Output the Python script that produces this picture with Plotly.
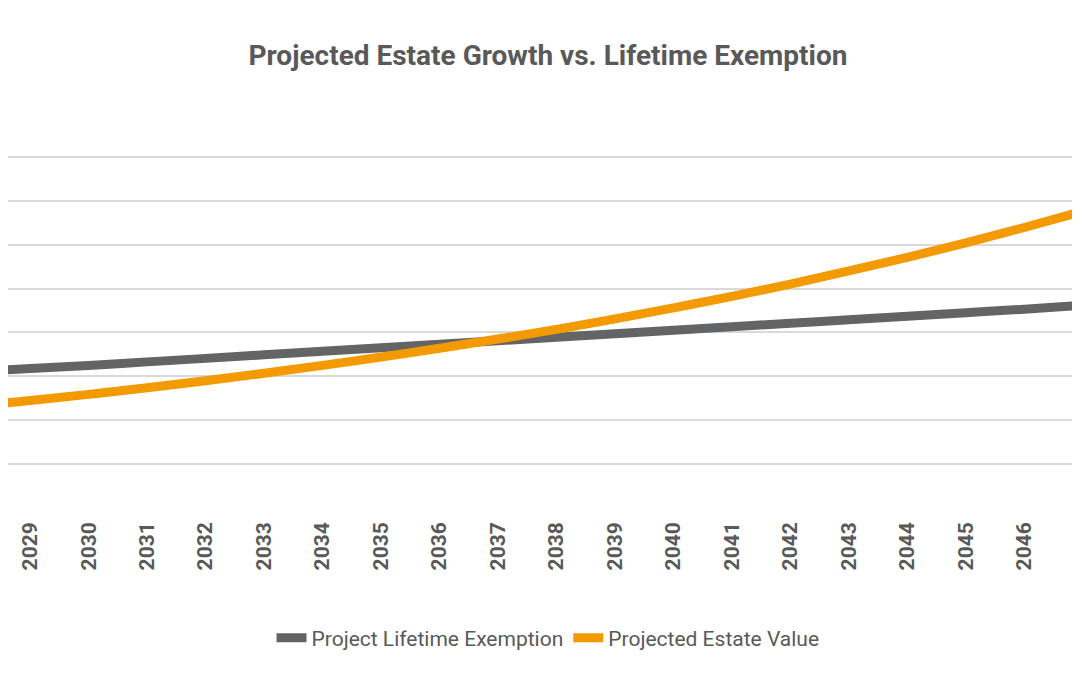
import plotly.graph_objects as go

years = list(range(2028, 2049))
exemption = [3.10,3.18,3.25,3.33,3.41,3.49,3.57,3.65,3.73,3.81,3.89,3.97,4.05,4.13,4.21,4.29,4.37,4.45,4.53,4.62,4.70]
estate = [2.32,2.45,2.59,2.74,2.90,3.07,3.25,3.44,3.64,3.85,4.07,4.31,4.56,4.82,5.10,5.40,5.71,6.04,6.39,6.76,7.15]
tick_years = list(range(2028, 2049))

grey = "#595959"
fig = go.Figure()
fig.add_trace(go.Scatter(x=years, y=exemption, mode="lines", name="Project Lifetime Exemption",
                         line=dict(color="#636466", width=9, shape="spline")))
fig.add_trace(go.Scatter(x=years, y=estate, mode="lines", name="Projected Estate Value",
                         line=dict(color="#F39A00", width=9, shape="spline")))
fig.update_layout(
    width=1080, height=675, paper_bgcolor="white", plot_bgcolor="white",
    margin=dict(l=0, r=0, t=104, b=174, autoexpand=False),
    font=dict(family="Roboto", color=grey),
    title=dict(text="<b>Projected Estate Growth vs. Lifetime Exemption</b>", x=0.5, xanchor="center",
               y=1 - 47/675, yanchor="middle", font=dict(size=28, color=grey)),
    xaxis=dict(range=[2028.62, 2047.09], tickmode="array", tickvals=tick_years,
               ticktext=[f"<b>{y}</b>" for y in tick_years], tickangle=-90, automargin=False,
               tickfont=dict(size=21, color=grey), showgrid=False, zeroline=False, showline=False,
               ticks="", ticklabelstandoff=8),
    yaxis=dict(range=[-0.02, 9.02], dtick=1, showticklabels=False, gridcolor="#d9d9d9", gridwidth=1.5,
               zeroline=False, showline=False, automargin=False),
    legend=dict(orientation="h", x=0.5, xanchor="center", y=(499-628)/397, yanchor="middle",
                font=dict(size=21, color=grey)),
    showlegend=True,
    shapes=[dict(type="line", xref="paper", yref="paper", x0=0, x1=1,
                 y0=-(672-501)/397, y1=-(672-501)/397, line=dict(color="#595959", width=3))],
)
fig.write_html("out.html")
